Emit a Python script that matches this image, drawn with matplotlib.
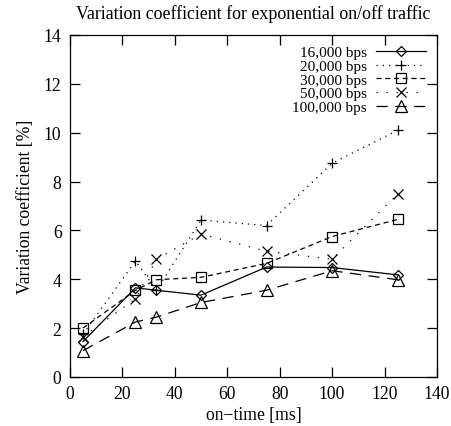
import matplotlib
matplotlib.use('Agg')
import matplotlib.pyplot as plt

# on-time values [ms]
on_time = [5, 25, 33, 50, 75, 100, 125]

# variation coefficient [%] per rate
v16k = [1.45, 3.65, 3.55, 3.35, 4.5, 4.48, 4.18]
v20k = [1.75, 4.75, 3.55, 6.42, 6.2, 8.75, 10.1]
v30k = [2.0, 3.55, 3.98, 4.08, 4.65, 5.75, 6.45]
v50k = [1.65, 3.2, 4.82, 5.85, 5.15, 4.82, 7.5]
v100k = [1.08, 2.25, 2.45, 3.05, 3.55, 4.35, 3.98]

labels = ['16,000 bps', '20,000 bps', '30,000 bps', '50,000 bps', '100,000 bps']

plt.rcParams['font.family'] = ['Liberation Serif', 'DejaVu Serif']
plt.rcParams['font.size'] = 12.7

fig = plt.figure(figsize=(4.51, 4.27), dpi=100)
ax = fig.add_axes([0.155, 0.1148, 0.814, 0.8009])

mk = dict(color='black', markerfacecolor='none', markeredgecolor='black', linewidth=0.9, markeredgewidth=0.9)
ax.plot(on_time, v16k, linestyle='-', marker='D', markersize=5.5, label=labels[0], **mk)
ax.plot(on_time, v20k, linestyle=(0, (1, 4)), marker='+', markersize=7, label=labels[1], **mk)
ax.plot(on_time, v30k, linestyle=(0, (4, 3)), marker='s', markersize=7, label=labels[2], **mk)
ax.plot(on_time, v50k, linestyle=(0, (1, 7)), marker='x', markersize=7.5, label=labels[3], **mk)
ax.plot(on_time, v100k, linestyle=(0, (9, 6)), marker='^', markersize=8.5, label=labels[4], **mk)

ax.set_xlim(0, 140)
ax.set_ylim(0, 14)
ax.set_xticks(range(0, 141, 20))
ax.set_yticks(range(0, 15, 2))
ax.tick_params(direction='in', length=7, width=0.9, top=True, right=True, pad=6)
for s in ax.spines.values():
    s.set_linewidth(0.9)

ax.set_xlabel('on\u2212time [ms]', labelpad=3)
ax.set_ylabel('Variation coefficient [%]', labelpad=7)
ax.set_title('Variation coefficient for exponential on/off traffic', fontsize=12.9, pad=12)

ax.legend(loc='upper right', frameon=False, markerfirst=False, labelspacing=0, fontsize=11,
          handlelength=3.3, handletextpad=0.6, borderaxespad=0.3, bbox_to_anchor=(1.0, 1.0))

fig.savefig('out.png', dpi=100)
